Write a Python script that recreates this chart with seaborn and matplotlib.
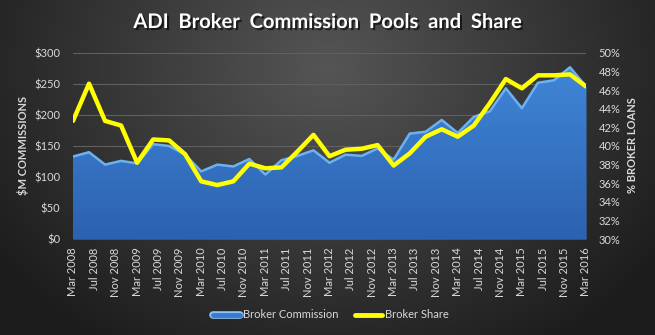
import numpy as np
import pandas as pd
import matplotlib
matplotlib.use("Agg")
import matplotlib.pyplot as plt
import matplotlib.patheffects as pe
from matplotlib.colors import LinearSegmentedColormap
from matplotlib.lines import Line2D
import seaborn as sns

# ---------------- data ----------------
quarters = ["Mar 2008", "Jun 2008", "Sep 2008", "Dec 2008",
            "Mar 2009", "Jun 2009", "Sep 2009", "Dec 2009",
            "Mar 2010", "Jun 2010", "Sep 2010", "Dec 2010",
            "Mar 2011", "Jun 2011", "Sep 2011", "Dec 2011",
            "Mar 2012", "Jun 2012", "Sep 2012", "Dec 2012",
            "Mar 2013", "Jun 2013", "Sep 2013", "Dec 2013",
            "Mar 2014", "Jun 2014", "Sep 2014", "Dec 2014",
            "Mar 2015", "Jun 2015", "Sep 2015", "Dec 2015",
            "Mar 2016"]
commission = [133, 140, 120, 126, 122, 153, 150, 136, 109, 120, 117, 129,
              104, 127, 134, 143, 123, 136, 134, 146, 128, 170, 173, 192,
              171, 197, 206, 243, 211, 252, 256, 277, 246]
share = [42.7, 46.7, 42.7, 42.2, 38.2, 40.7, 40.6, 39.1, 36.2, 35.8, 36.2, 38.1,
         37.6, 37.7, 39.4, 41.2, 38.9, 39.6, 39.7, 40.1, 37.9, 39.2, 41.0, 41.8,
         41.0, 42.2, 44.6, 47.2, 46.2, 47.6, 47.6, 47.7, 46.4]
tick_labels = ["Mar 2008", "Jul 2008", "Nov 2008", "Mar 2009", "Jul 2009", "Nov 2009",
               "Mar 2010", "Jul 2010", "Nov 2010", "Mar 2011", "Jul 2011", "Nov 2011",
               "Mar 2012", "Jul 2012", "Nov 2012", "Mar 2013", "Jul 2013", "Nov 2013",
               "Mar 2014", "Jul 2014", "Nov 2014", "Mar 2015", "Jul 2015", "Nov 2015",
               "Mar 2016"]
left_ticks = [0, 50, 100, 150, 200, 250, 300]
right_ticks = [30, 32, 34, 36, 38, 40, 42, 44, 46, 48, 50]

title = "ADI  Broker  Commission  Pools  and  Share"

# ---------------- style ----------------
sns.set_theme(style="dark")
plt.rcParams['font.family'] = ['Lato', 'DejaVu Sans']
TXT = "#d9d9d9"


def month_index(lbl):
    d = pd.to_datetime(lbl, format="%b %Y")
    return (d.year - 2008) * 12 + d.month - 3


df = pd.DataFrame({"month": [month_index(q) for q in quarters],
                   "commission": commission, "share": share})
tick_pos = [month_index(t) for t in tick_labels]

W, H = 655, 335
fig = plt.figure(figsize=(W / 100, H / 100), dpi=100)

# background radial gradient
bg = fig.add_axes([0, 0, 1, 1], zorder=-10)
yy, xx = np.mgrid[0:H, 0:W]
r = np.sqrt(((xx - W * 0.5) / (W * 0.62)) ** 2 + ((yy - H * 0.2) / (H * 1.0)) ** 2)
r = np.clip(r, 0, 1)
inner = np.array([0x55, 0x55, 0x55]) / 255
outer = np.array([0x1c, 0x1c, 0x1c]) / 255
img = inner[None, None, :] * (1 - r[..., None]) + outer[None, None, :] * r[..., None]
bg.imshow(img, aspect="auto", extent=[0, 1, 0, 1], origin="upper")
bg.axis("off")

ax = fig.add_axes([73 / W, 1 - 239 / H, (586 - 73) / W, (239 - 53) / H])
ax.set_facecolor("none")
ax.patch.set_alpha(0)

# area with vertical gradient
poly = ax.fill_between(df["month"], df["commission"], 0, color="#3a7bd0", lw=0, zorder=2)
cmap = LinearSegmentedColormap.from_list("b", ["#2c62b0", "#4288da"])
grad = np.linspace(0, 1, 256)[:, None]
im = ax.imshow(grad, cmap=cmap, aspect="auto", extent=[0, 96, 0, 300],
               origin="lower", zorder=2.1)
im.set_clip_path(poly.get_paths()[0], transform=ax.transData)
sns.lineplot(data=df, x="month", y="commission", ax=ax, color="#6cb2f2", lw=1.8,
             zorder=2.2)

ax.set_xlim(0, 96)
ax.set_ylim(0, 300)
ax.set_yticks(left_ticks)
ax.set_yticklabels([f"${v}" for v in left_ticks])
ax.set_xticks(tick_pos)
ax.set_xticklabels(tick_labels, rotation=90)
ax.grid(axis="y", color="#606060", lw=0.8, zorder=0)
ax.grid(axis="x", visible=False)
ax.set_axisbelow(True)
ax.tick_params(axis="y", length=0, pad=9, colors=TXT, labelsize=8)
ax.tick_params(axis="x", length=0, pad=6, colors=TXT, labelsize=8)
ax.set_xlabel("")
ax.set_ylabel("")
for s in ax.spines.values():
    s.set_visible(False)

ax2 = ax.twinx()
sns.lineplot(data=df, x="month", y="share", ax=ax2, color="#ffff00", lw=3.2,
             zorder=5)
ax2.set_ylim(30, 50)
ax2.set_yticks(right_ticks)
ax2.set_yticklabels([f"{v}%" for v in right_ticks])
ax2.tick_params(axis="y", length=0, pad=9, colors=TXT, labelsize=8)
ax2.set_ylabel("")
ax2.grid(False)
ax2.set_facecolor("none")
for s in ax2.spines.values():
    s.set_visible(False)

fig.text(23 / W, 1 - 145 / H, "$M COMMISSIONS", rotation=90, ha="center", va="center",
         color=TXT, fontsize=8, fontweight="bold")
fig.text(632 / W, 1 - 145 / H, "% BROKER LOANS", rotation=90, ha="center", va="center",
         color=TXT, fontsize=8, fontweight="bold")

fig.text(0.5, 1 - 22 / H, title, ha="center", va="center", color="white",
         fontsize=14.5, fontweight="bold",
         path_effects=[pe.withSimplePatchShadow(offset=(1.5, -1.5), shadow_rgbFace="black", alpha=0.6)])

h1 = Line2D([0], [0], color="#3a7bd0", lw=3.5, solid_capstyle="round",
            path_effects=[pe.Stroke(linewidth=5.5, foreground="#8cc4f5"), pe.Normal()])
h2 = Line2D([0], [0], color="#ffff00", lw=3.5)
leg = fig.legend([h1, h2], ["Broker Commission", "Broker Share"], loc="center",
                 bbox_to_anchor=(331 / W, 1 - 315 / H), ncol=2, frameon=False,
                 fontsize=8, handlelength=2.4, handletextpad=0.3, columnspacing=1.5)
for t in leg.get_texts():
    t.set_color(TXT)

fig.savefig("out.png", dpi=100)
